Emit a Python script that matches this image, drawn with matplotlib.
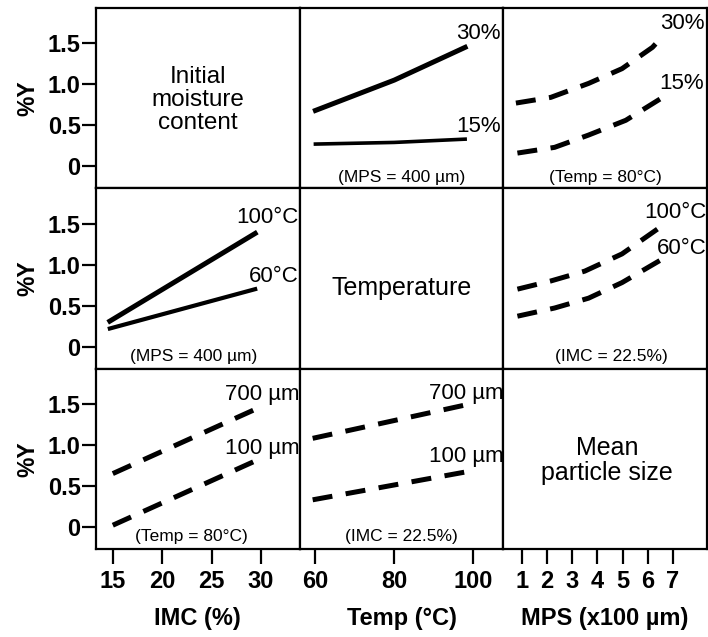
import matplotlib.pyplot as plt

plt.rcParams['font.family'] = ['Liberation Sans', 'DejaVu Sans']

# axis tick values
imc_ticks = [15, 20, 25, 30]
temp_ticks = [60, 80, 100]
mps_ticks = [1, 2, 3, 4, 5, 6, 7]
y_ticks = [0, 0.5, 1.0, 1.5]
y_ticklabels = ['0', '0.5', '1.0', '1.5']

# top middle: %Y vs Temp, by IMC (MPS = 400 um)
temp_a = [60, 80, 98]
imc30_a = [0.68, 1.05, 1.45]
imc15_a = [0.27, 0.29, 0.33]

# top right: %Y vs MPS, by IMC (Temp = 80C)
mps_30 = [0.76, 2.15, 3.65, 4.98, 6.19, 6.55]
imc30_b = [0.77, 0.84, 1.01, 1.19, 1.45, 1.57]
mps_15 = [0.82, 2.3, 3.65, 5.13, 6.6]
imc15_b = [0.16, 0.23, 0.38, 0.56, 0.84]

# middle left: %Y vs IMC, by Temp (MPS = 400 um)
imc_a = [14.7, 29.4]
t100_a = [0.31, 1.38]
t60_a = [0.22, 0.70]

# middle right: %Y vs MPS, by Temp (IMC = 22.5%)
mps_100 = [0.82, 2.15, 3.5, 4.98, 6.47]
t100_b = [0.70, 0.80, 0.92, 1.13, 1.45]
mps_60 = [0.82, 2.3, 3.65, 4.98, 6.6]
t60_b = [0.37, 0.47, 0.59, 0.78, 1.07]

# bottom left: %Y vs IMC, by MPS (Temp = 80C)
imc_b = [15, 29.7]
p700_a = [0.65, 1.45]
p100_a = [0.02, 0.82]

# bottom middle: %Y vs Temp, by MPS (IMC = 22.5%)
temp_b = [59.3, 99.3]
p700_b = [1.08, 1.50]
p100_b = [0.33, 0.68]

xlims = [(13.3, 33.9), (56.0, 107.7), (0.26, 8.36)]
ylim = (-0.27, 1.93)

fig, axes = plt.subplots(3, 3, figsize=(7.08, 6.37), dpi=100)
plt.subplots_adjust(left=96/708, right=707/708, top=1-8/637, bottom=1-549/637,
                    wspace=0, hspace=0)

for r in range(3):
    for c in range(3):
        ax = axes[r, c]
        ax.set_xlim(*xlims[c])
        ax.set_ylim(*ylim)
        for s in ax.spines.values():
            s.set_linewidth(1.6)
        ax.tick_params(length=0, labelleft=False, labelbottom=False)
        if c == 0:
            ax.set_yticks(y_ticks)
            ax.set_yticklabels(y_ticklabels)
            ax.tick_params(axis='y', labelleft=True, length=10, width=1.6,
                           direction='out', labelsize=17, pad=1)
            for lab in ax.get_yticklabels():
                lab.set_fontweight('bold')
            ax.set_ylabel('%Y', fontsize=16.5, fontweight='bold', labelpad=6)
        else:
            ax.set_yticks([])
        if r == 2:
            ax.set_xticks([imc_ticks, temp_ticks, mps_ticks][c])
            ax.tick_params(axis='x', labelbottom=True, length=11, width=1.6,
                           direction='out', labelsize=17, pad=4)
            for lab in ax.get_xticklabels():
                lab.set_fontweight('bold')
            ax.set_xlabel(['IMC (%)', 'Temp (°C)', 'MPS (x100 µm)'][c],
                          fontsize=17, fontweight='bold', labelpad=10)
        else:
            ax.set_xticks([])

dash = (4, 2.7)

# diagonal titles
axes[0, 0].text(0.5, 0.49, 'Initial\nmoisture\ncontent', transform=axes[0, 0].transAxes,
                ha='center', va='center', fontsize=17.5, linespacing=1.05)
axes[1, 1].text(0.5, 0.45, 'Temperature', transform=axes[1, 1].transAxes,
                ha='center', va='center', fontsize=18)
axes[2, 2].text(0.51, 0.49, 'Mean\nparticle size', transform=axes[2, 2].transAxes,
                ha='center', va='center', fontsize=18, linespacing=1.05)

# top middle
ax = axes[0, 1]
ax.plot(temp_a, imc30_a, color='black', lw=3.6)
ax.plot(temp_a, imc15_a, color='black', lw=2.6)
ax.text(107, 1.62, '30%', ha='right', va='center', fontsize=16)
ax.text(107, 0.48, '15%', ha='right', va='center', fontsize=16)
ax.text(0.5, 0.06, '(MPS = 400 µm)', transform=ax.transAxes, ha='center', va='center', fontsize=12.5)

# top right
ax = axes[0, 2]
ax.plot(mps_30, imc30_b, color='black', lw=3.6, dashes=dash)
ax.plot(mps_15, imc15_b, color='black', lw=3.6, dashes=dash)
ax.text(8.25, 1.74, '30%', ha='right', va='center', fontsize=16)
ax.text(8.25, 1.01, '15%', ha='right', va='center', fontsize=16)
ax.text(0.5, 0.06, '(Temp = 80°C)', transform=ax.transAxes, ha='center', va='center', fontsize=12.5)

# middle left
ax = axes[1, 0]
ax.plot(imc_a, t100_a, color='black', lw=3.6)
ax.plot(imc_a, t60_a, color='black', lw=3.0)
ax.text(33.8, 1.57, '100°C', ha='right', va='center', fontsize=16)
ax.text(33.8, 0.86, '60°C', ha='right', va='center', fontsize=16)
ax.text(0.48, 0.07, '(MPS = 400 µm)', transform=ax.transAxes, ha='center', va='center', fontsize=12.5)

# middle right
ax = axes[1, 2]
ax.plot(mps_100, t100_b, color='black', lw=3.6, dashes=dash)
ax.plot(mps_60, t60_b, color='black', lw=3.6, dashes=dash)
ax.text(8.36, 1.64, '100°C', ha='right', va='center', fontsize=16)
ax.text(8.36, 1.19, '60°C', ha='right', va='center', fontsize=16)
ax.text(0.53, 0.07, '(IMC = 22.5%)', transform=ax.transAxes, ha='center', va='center', fontsize=12.5)

# bottom left
ax = axes[2, 0]
ax.plot(imc_b, p700_a, color='black', lw=3.6, dashes=dash)
ax.plot(imc_b, p100_a, color='black', lw=3.6, dashes=dash)
ax.text(33.9, 1.62, '700 µm', ha='right', va='center', fontsize=16)
ax.text(33.9, 0.95, '100 µm', ha='right', va='center', fontsize=16)
ax.text(0.47, 0.07, '(Temp = 80°C)', transform=ax.transAxes, ha='center', va='center', fontsize=12.5)

# bottom middle
ax = axes[2, 1]
ax.plot(temp_b, p700_b, color='black', lw=3.6, dashes=dash)
ax.plot(temp_b, p100_b, color='black', lw=3.6, dashes=dash)
ax.text(107.7, 1.63, '700 µm', ha='right', va='center', fontsize=16)
ax.text(107.7, 0.86, '100 µm', ha='right', va='center', fontsize=16)
ax.text(0.5, 0.07, '(IMC = 22.5%)', transform=ax.transAxes, ha='center', va='center', fontsize=12.5)

plt.savefig('out.png', dpi=100)
